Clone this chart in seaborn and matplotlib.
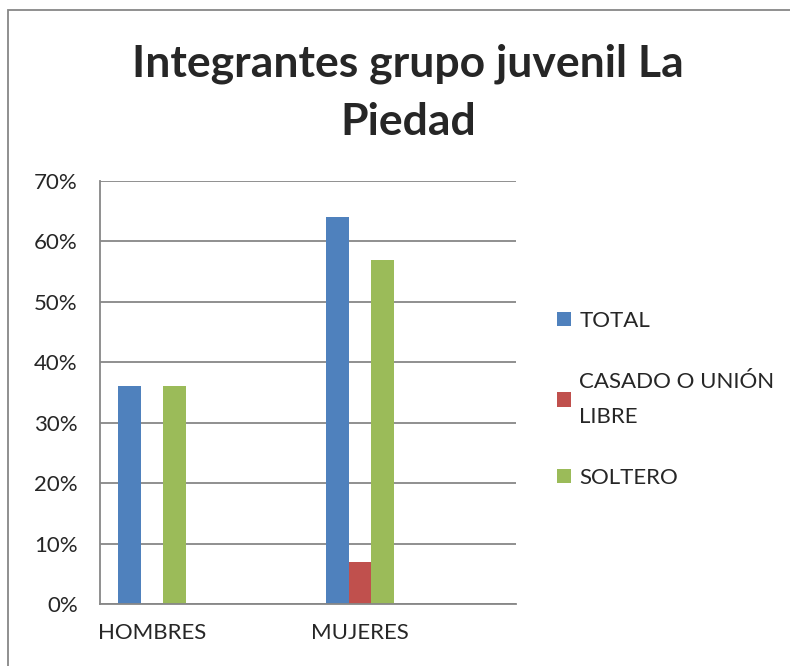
import matplotlib
matplotlib.use("Agg")
import matplotlib.pyplot as plt
import matplotlib.patches as mpatches
import pandas as pd
import seaborn as sns

# Data
categories = ["HOMBRES", "MUJERES"]
series = ["TOTAL", "CASADO O UNIÓN\nLIBRE", "SOLTERO"]
total = [0.36, 0.64]
casado = [0.0, 0.07]
soltero = [0.36, 0.57]
y_ticks = [0.0, 0.1, 0.2, 0.3, 0.4, 0.5, 0.6, 0.7]
y_labels = ["0%", "10%", "20%", "30%", "40%", "50%", "60%", "70%"]
colors = ["#4F81BD", "#C0504D", "#9BBB59"]

df = pd.DataFrame({
    "grupo": categories * 3,
    "serie": [series[0]] * 2 + [series[1]] * 2 + [series[2]] * 2,
    "valor": total + casado + soltero,
})

sns.set_style("white")
plt.rcParams["font.family"] = ["Lato", "DejaVu Sans"]

fig = plt.figure(figsize=(7.9, 6.66), dpi=100)
ax = fig.add_axes([100 / 790, 62 / 666, 416 / 790, 423 / 666])

sns.barplot(data=df, x="grupo", y="valor", hue="serie", palette=colors,
            width=0.33, gap=0, saturation=1, linewidth=0, ax=ax, legend=True)

ax.set_xlim(-0.25, 1.75)
ax.set_ylim(0, 0.7)
ax.set_yticks(y_ticks)
ax.set_yticklabels(y_labels, fontsize=16)
ax.tick_params(axis="y", length=4, color="#878787", pad=12, width=1.2)
ax.tick_params(axis="x", length=0, pad=14, labelsize=16)
ax.set_xlabel("")
ax.set_ylabel("")
ax.yaxis.grid(True, color="#878787", linewidth=1.3)
ax.set_axisbelow(True)
for side in ["top", "right"]:
    ax.spines[side].set_visible(False)
for side in ["left", "bottom"]:
    ax.spines[side].set_color("#878787")
    ax.spines[side].set_linewidth(1.3)

# legend to the right, like the spreadsheet layout
handles, labels = ax.get_legend_handles_labels()
leg = ax.legend(handles, labels, loc="upper left", bbox_to_anchor=(557 / 790, 1 - 311 / 666),
                bbox_transform=fig.transFigure, frameon=False, fontsize=16,
                borderpad=0, borderaxespad=0,
                handlelength=0.63, handleheight=0.63, handletextpad=0.38, labelspacing=1.85)
for t in leg.get_texts():
    t.set_linespacing(1.9)

fig.text(408 / 790, 1 - 93 / 666, "Integrantes grupo juvenil La\nPiedad",
         ha="center", va="center", fontsize=32, fontweight="bold", linespacing=1.55)

# outer chart frame
fig.patches.append(mpatches.Rectangle((8 / 790, -0.05), 1.0, 1 - 10 / 666 + 0.05,
                                      transform=fig.transFigure, fill=False,
                                      edgecolor="#878787", linewidth=1.3))

fig.savefig("out.png", dpi=100)
